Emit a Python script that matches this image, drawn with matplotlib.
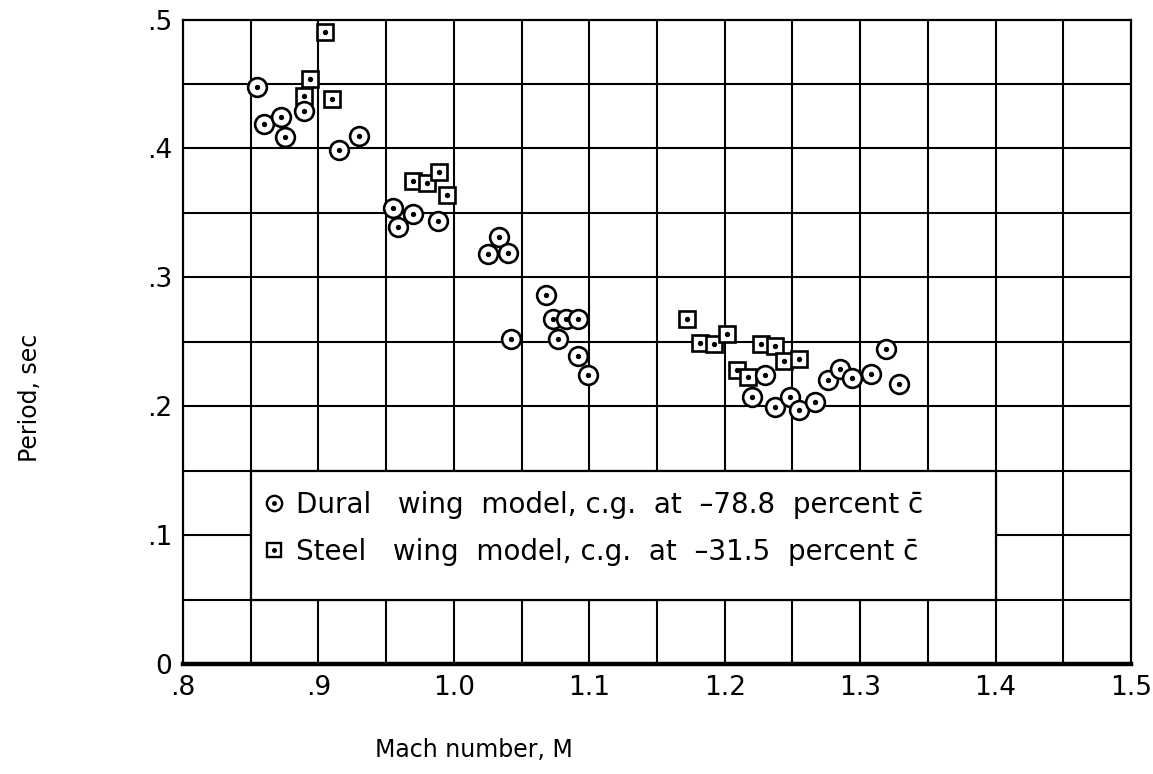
import matplotlib
matplotlib.use("Agg")
import matplotlib.pyplot as plt
from matplotlib.patches import Rectangle
from matplotlib.lines import Line2D
from matplotlib.legend_handler import HandlerTuple
import numpy as np

plt.rcParams['font.family'] = ['DejaVu Sans']

# Dural wing model (circles)
dural_mach = [0.855, 0.860, 0.872, 0.875, 0.889, 0.9155, 0.930, 0.955, 0.959, 0.970,
              0.988, 1.025, 1.033, 1.040, 1.042, 1.068, 1.073, 1.077, 1.083, 1.092,
              1.092, 1.099, 1.220, 1.230, 1.237, 1.248, 1.255, 1.267, 1.276, 1.285,
              1.294, 1.308, 1.319, 1.329]
dural_period = [0.448, 0.419, 0.424, 0.409, 0.429, 0.399, 0.410, 0.354, 0.339, 0.349,
                0.344, 0.318, 0.331, 0.319, 0.252, 0.286, 0.268, 0.252, 0.268, 0.268,
                0.239, 0.224, 0.207, 0.224, 0.199, 0.207, 0.197, 0.203, 0.220, 0.229,
                0.222, 0.225, 0.244, 0.217]

# Steel wing model (squares)
steel_mach = [0.889, 0.894, 0.905, 0.910, 0.970, 0.980, 0.989, 0.995, 1.172, 1.182,
              1.192, 1.202, 1.209, 1.217, 1.227, 1.237, 1.244, 1.255]
steel_period = [0.441, 0.454, 0.490, 0.438, 0.375, 0.373, 0.382, 0.364, 0.268, 0.249,
                0.248, 0.256, 0.228, 0.223, 0.248, 0.247, 0.235, 0.237]

x_ticks = [0.8, 0.9, 1.0, 1.1, 1.2, 1.3, 1.4, 1.5]
x_tick_labels = [".8", ".9", "1.0", "1.1", "1.2", "1.3", "1.4", "1.5"]
y_ticks = [0.0, 0.1, 0.2, 0.3, 0.4, 0.5]
y_tick_labels = ["0", ".1", ".2", ".3", ".4", ".5"]

dural_label = "Dural   wing  model, c.g.  at  \u201378.8  percent c\u0304"
steel_label = "Steel   wing  model, c.g.  at  \u201331.5  percent c\u0304"

W, H = 1153, 774
fig = plt.figure(figsize=(W / 100, H / 100), dpi=100)
ax = fig.add_axes([183 / W, 1 - 664 / H, (1131 - 183) / W, (664 - 19.5) / H])
ax.set_xlim(0.8, 1.5)
ax.set_ylim(0.0, 0.5)

# grid every 0.05
for gx in np.arange(0.85, 1.5, 0.05):
    ax.axvline(gx, color='black', lw=1.5, zorder=1)
for gy in np.arange(0.05, 0.5, 0.05):
    ax.axhline(gy, color='black', lw=1.5, zorder=1)

for s in ['left', 'right', 'top']:
    ax.spines[s].set_linewidth(1.6)
ax.spines['bottom'].set_linewidth(3.2)

ax.set_xticks(x_ticks)
ax.set_xticklabels(x_tick_labels)
ax.set_yticks(y_ticks)
ax.set_yticklabels(y_tick_labels)
ax.tick_params(length=0, labelsize=19, pad=8)

ms_c, ms_s, mew = 13.5, 12.0, 1.9
z = 3
for m, p in zip(steel_mach, steel_period):
    ax.plot(m, p, marker='s', ms=ms_s, mfc='white', mec='black', mew=mew, ls='none', zorder=z)
    ax.plot(m, p, marker='o', ms=2.8, color='black', ls='none', zorder=z + 0.5)
    z += 1
for m, p in zip(dural_mach, dural_period):
    ax.plot(m, p, marker='o', ms=ms_c, mfc='white', mec='black', mew=mew, ls='none', zorder=z)
    ax.plot(m, p, marker='o', ms=2.8, color='black', ls='none', zorder=z + 0.5)
    z += 1

# legend box
ax.add_patch(Rectangle((0.85, 0.05), 0.55, 0.1, facecolor='white', edgecolor='black',
                       lw=1.6, zorder=200))
h_c = (Line2D([], [], marker='o', ms=11, mfc='white', mec='black', mew=1.7, ls='none'),
       Line2D([], [], marker='o', ms=2.5, color='black', ls='none'))
h_s = (Line2D([], [], marker='s', ms=10, mfc='white', mec='black', mew=1.7, ls='none'),
       Line2D([], [], marker='o', ms=2.5, color='black', ls='none'))
leg = ax.legend([h_c, h_s], [dural_label, steel_label],
                handler_map={tuple: HandlerTuple(ndivide=1, pad=0)},
                loc='upper left', bbox_to_anchor=(260 / W, 1 - 491 / H),
                bbox_transform=fig.transFigure, frameon=False, fontsize=20,
                handlelength=1.0, handletextpad=0.3, labelspacing=0.68,
                borderpad=0, borderaxespad=0)
leg.set_zorder(300)

fig.text(30 / W, 1 - 398 / H, "Period, sec", rotation=90, ha='center', va='center', fontsize=17)
fig.text(474 / W, 1 - 750 / H, "Mach number, M", ha='center', va='center', fontsize=17)

fig.savefig("out.png", dpi=100)
